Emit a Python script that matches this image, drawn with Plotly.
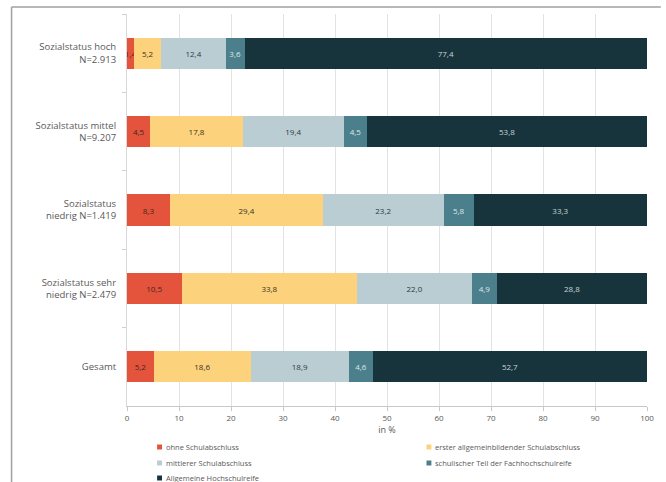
import plotly.graph_objects as go

categories = ["Sozialstatus hoch<br>N=2.913", "Sozialstatus mittel<br>N=9.207",
              "Sozialstatus<br>niedrig N=1.419", "Sozialstatus sehr<br>niedrig N=2.479", "Gesamt"]
series_names = ["ohne Schulabschluss", "erster allgemeinbildender Schulabschluss",
                "mittlerer Schulabschluss", "schulischer Teil der Fachhochschulreife",
                "Allgemeine Hochschulreife"]
ohne = [1.4, 4.5, 8.3, 10.5, 5.2]
erster = [5.2, 17.8, 29.4, 33.8, 18.6]
mittlerer = [12.4, 19.4, 23.2, 22.0, 18.9]
schulischer = [3.6, 4.5, 5.8, 4.9, 4.6]
allgemeine = [77.4, 53.8, 33.3, 28.8, 52.7]
x_ticks = [0, 10, 20, 30, 40, 50, 60, 70, 80, 90, 100]

colors = ["#E4533B", "#FCD27C", "#BACDD3", "#4B7F8B", "#17343C"]
text_colors = ["#3a2a20", "#3a3320", "#2f3a3d", "#dfe8ea", "#c9d3d6"]
values = [ohne, erster, mittlerer, schulischer, allgemeine]

# legend layout: (column, row) for each series, two columns filled row-wise
legend_slots = [(0, 0), (1, 0), (0, 1), (1, 1), (0, 2)]

L, R, T, B, W, H = 127, 12, 14, 76, 666, 482
pw, ph = W - L - R, H - T - B

def px_x(p):
    return (p - L) / pw

def px_y(p):
    return (H - B - p) / ph

fig = go.Figure()
for name, vals, c, tc in zip(series_names, values, colors, text_colors):
    fig.add_trace(go.Bar(
        y=categories, x=vals, name=name, orientation="h",
        marker=dict(color=c, line=dict(width=0)),
        texttemplate="%{x:.1f}", textposition="inside", insidetextanchor="middle",
        textangle=0, constraintext="none",
        textfont=dict(size=8, color=tc, family="Open Sans"),
        showlegend=False,
    ))

shapes = [
    dict(type="line", xref="paper", yref="paper", x0=px_x(10), x1=px_x(668), y0=px_y(7), y1=px_y(7),
         line=dict(color="#a0a0a0", width=1.5)),
    dict(type="line", xref="paper", yref="paper", x0=px_x(10), x1=px_x(10), y0=px_y(7), y1=px_y(484),
         line=dict(color="#a0a0a0", width=1.5)),
]
annotations = []
col_x = [160, 433]
row_y = [447, 463, 478]
for (col, row), name, c in zip(legend_slots, series_names, colors):
    mx, my = col_x[col], row_y[row]
    shapes.append(dict(type="rect", xref="paper", yref="paper",
                       x0=px_x(mx - 2.5), x1=px_x(mx + 2.5), y0=px_y(my + 2.5), y1=px_y(my - 2.5),
                       fillcolor=c, line=dict(width=0)))
    annotations.append(dict(xref="paper", yref="paper", x=px_x(mx + 4), y=px_y(my),
                            xanchor="left", yanchor="middle", text=name, showarrow=False,
                            font=dict(size=7.5, color="#595959", family="Open Sans")))

fig.update_layout(
    barmode="stack", bargap=0.6, separators=",.",
    width=W, height=H, paper_bgcolor="white", plot_bgcolor="white",
    margin=dict(l=L, r=R, t=T, b=B),
    font=dict(family="Open Sans", size=8, color="#595959"),
    showlegend=False,
    xaxis=dict(range=[0, 100], tickvals=x_ticks, showgrid=True, gridcolor="#e3e3e3",
               gridwidth=1, zeroline=False, showline=True, linecolor="#c8c8c8",
               ticks="outside", ticklen=4, tickcolor="#c8c8c8",
               tickfont=dict(size=8, color="#595959"),
               title=dict(text="in %", font=dict(size=9, color="#595959"), standoff=4)),
    yaxis=dict(autorange="reversed", showgrid=False, showline=True, linecolor="#d8d8d8",
               ticks="outside", tickson="boundaries", ticklen=4, tickcolor="#d0d0d0",
               ticklabelstandoff=8, tickfont=dict(size=9.5, color="#595959")),
    shapes=shapes,
    annotations=annotations,
)

fig.write_html("out.html")
